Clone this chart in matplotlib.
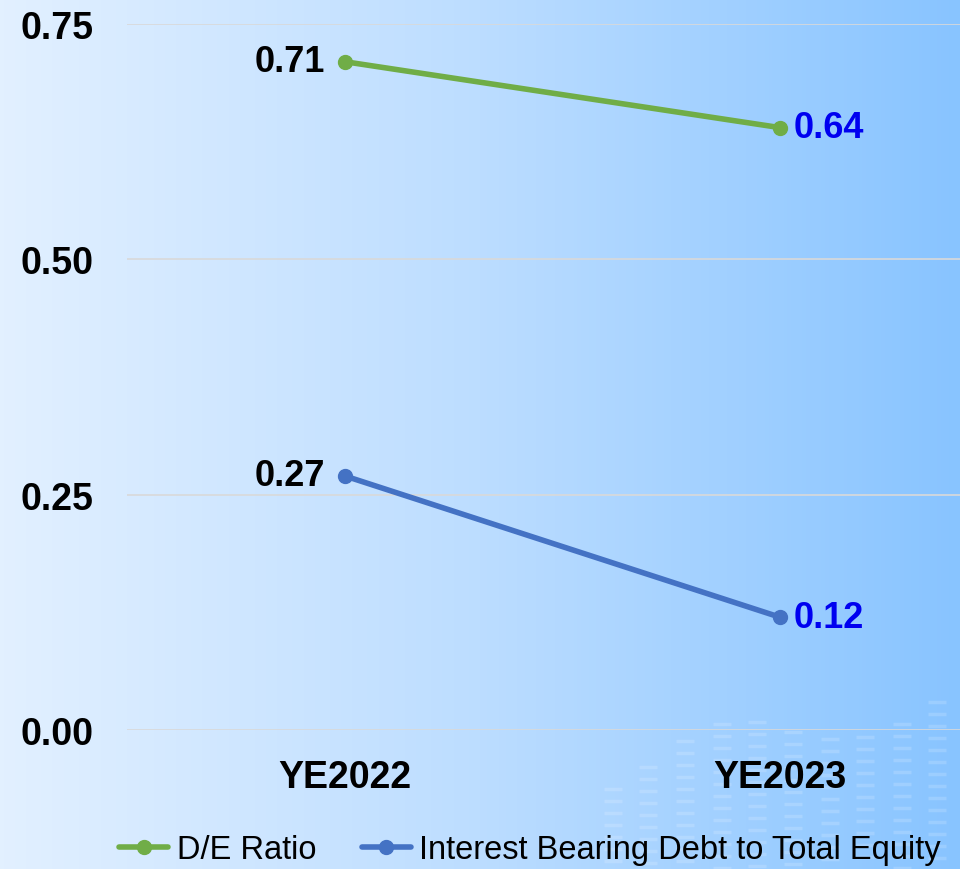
import numpy as np
import matplotlib
matplotlib.use("Agg")
import matplotlib.pyplot as plt
from matplotlib.colors import LinearSegmentedColormap

plt.rcParams['font.family'] = ['Liberation Sans', 'DejaVu Sans']

years = ["YE2022", "YE2023"]
de_ratio = [0.71, 0.64]
ibd_equity = [0.27, 0.12]
series_names = ["D/E Ratio", "Interest Bearing Debt to Total Equity"]
yticks = [0.00, 0.25, 0.50, 0.75]

GREEN = "#70AD47"
BLUE = "#4472C4"
LABEL_BLUE = "#0000F0"

W, H = 960, 870
fig = plt.figure(figsize=(W / 100, H / 100), dpi=100)

# gradient background, drawn in pixel coords
bg = fig.add_axes([0, 0, 1, 1], zorder=0)
cmap = LinearSegmentedColormap.from_list("bg", ["#E2F0FF", "#BCDDFF", "#88C4FF"])
grad = np.linspace(0, 1, 256).reshape(1, -1)
bg.imshow(grad, cmap=cmap, aspect="auto", extent=[0, W, H, 0])
# faint equaliser stripes in the bottom right corner (decoration only)
stripe_x = [613, 648, 685, 722, 757, 793, 830, 865, 902, 937]
stripe_top = [790, 768, 742, 725, 723, 733, 740, 738, 725, 703]
for sx, st in zip(stripe_x, stripe_top):
    for yy in np.arange(st, H, 12):
        bg.plot([sx - 9, sx + 9], [yy, yy], color="white", lw=2.5, alpha=0.16,
                solid_capstyle="butt")
bg.set_xlim(0, W)
bg.set_ylim(H, 0)
bg.set_axis_off()

ax = fig.add_axes([127 / W, 139 / H, 870 / W, 706 / H], zorder=1)
ax.patch.set_alpha(0)
x = np.arange(len(years))

ax.plot(x, de_ratio, color=GREEN, lw=4, marker="o", ms=10, label=series_names[0],
        solid_capstyle="round", clip_on=False)
ax.plot(x, ibd_equity, color=BLUE, lw=4, marker="o", ms=10, label=series_names[1],
        solid_capstyle="round", clip_on=False)

for vals in (de_ratio, ibd_equity):
    ax.annotate(f"{vals[0]:.2f}", (x[0], vals[0]), xytext=(-14, 0), textcoords="offset points",
                ha="right", va="center", fontsize=26, fontweight="bold", color="black")
    ax.annotate(f"{vals[1]:.2f}", (x[1], vals[1]), xytext=(10, 0), textcoords="offset points",
                ha="left", va="center", fontsize=26, fontweight="bold", color=LABEL_BLUE)

ax.set_xlim(-0.5, 1.5)
ax.set_ylim(0, 0.75)
ax.set_yticks(yticks)
ax.set_yticklabels([f"{t:.2f}" for t in yticks])
ax.set_xticks(x)
ax.set_xticklabels(years)
ax.tick_params(axis="y", length=0, pad=24, labelsize=27)
ax.tick_params(axis="x", length=0, pad=21, labelsize=27)
for lab in ax.get_xticklabels() + ax.get_yticklabels():
    lab.set_fontweight("bold")
ax.grid(axis="y", color="#D9D9D9", lw=1.2)
ax.set_axisbelow(True)
for s in ax.spines.values():
    s.set_visible(False)

h, l = ax.get_legend_handles_labels()
fig.legend(h, l, loc="center", bbox_to_anchor=(530 / W, 1 - 851 / H), ncol=2,
           frameon=False, fontsize=23.5, handlelength=1.5, handletextpad=0.25,
           columnspacing=1.4)

fig.savefig("out.png", dpi=100)
